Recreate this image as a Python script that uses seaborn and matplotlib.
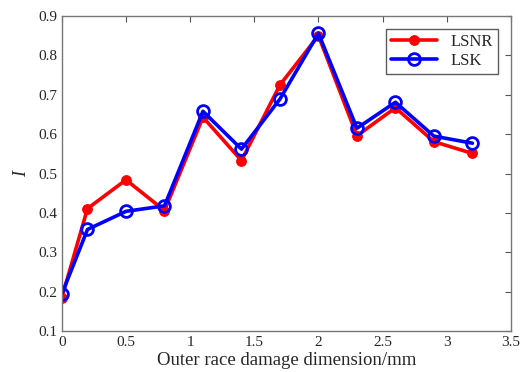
import numpy as np
import pandas as pd
import seaborn as sns
import matplotlib.pyplot as plt

# damage size (mm) and index values
dim = [0, 0.2, 0.5, 0.8, 1.1, 1.4, 1.7, 2.0, 2.3, 2.6, 2.9, 3.2]
lsnr = [0.185, 0.411, 0.484, 0.406, 0.643, 0.533, 0.725, 0.850, 0.596, 0.667, 0.581, 0.551]
lsk = [0.194, 0.358, 0.404, 0.418, 0.658, 0.562, 0.689, 0.856, 0.615, 0.681, 0.595, 0.577]

sns.set_style("white")
plt.rcParams['font.family'] = ['Liberation Serif', 'DejaVu Serif']
plt.rcParams['xtick.direction'] = 'in'
plt.rcParams['ytick.direction'] = 'in'

fig = plt.figure(figsize=(5.24, 3.72), dpi=100)
ax = fig.add_axes([0.118, 0.110, 0.857, 0.847])

sns.lineplot(x=dim, y=lsnr, ax=ax, color='#ff0000', lw=2.6, marker='o', ms=7,
             mfc='#ff0000', mec='#ff0000', label='LSNR')
sns.lineplot(x=dim, y=lsk, ax=ax, color='#0000ff', lw=2.6, marker='o', ms=8.5,
             mfc='none', mec='#0000ff', mew=2, label='LSK')

ax.set_xlim(0, 3.5)
ax.set_ylim(0.1, 0.9)
ax.set_xticks(np.arange(0, 3.51, 0.5))
ax.set_xticklabels(['0', '0.5', '1', '1.5', '2', '2.5', '3', '3.5'])
ax.set_yticks(np.arange(0.1, 0.91, 0.1))
ax.set_yticklabels(['0.1', '0.2', '0.3', '0.4', '0.5', '0.6', '0.7', '0.8', '0.9'])
ax.tick_params(labelsize=11, top=True, right=True, length=4, color='#555555')
for s in ax.spines.values():
    s.set_color('#777777')
    s.set_linewidth(1)

ax.set_xlabel('Outer race damage dimension/mm', fontsize=13.5, labelpad=2)
ax.set_ylabel('I', fontsize=13, style='italic', labelpad=6)

leg = ax.legend(loc='upper right', fontsize=12, frameon=True, fancybox=False,
                handlelength=2.8, borderpad=0.3, labelspacing=0.15,
                bbox_to_anchor=(0.99, 0.985))
leg.get_frame().set_edgecolor('#333333')
leg.get_frame().set_linewidth(1)

fig.savefig('out.png', dpi=100)
